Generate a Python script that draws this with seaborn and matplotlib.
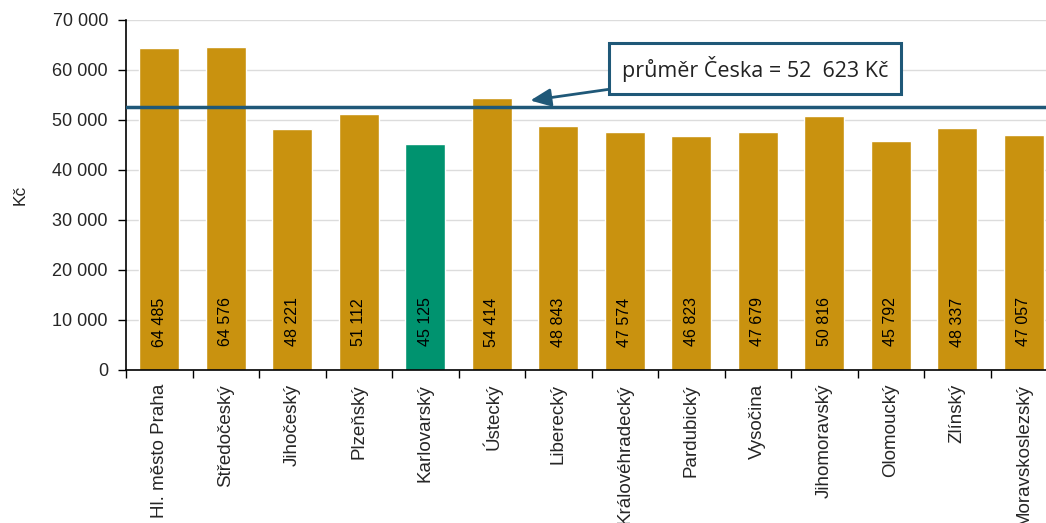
import matplotlib
matplotlib.use("Agg")
import matplotlib.pyplot as plt
import seaborn as sns
import pandas as pd
import numpy as np

regions = ["Hl. město Praha", "Středočeský", "Jihočeský", "Plzeňský", "Karlovarský",
           "Ústecký", "Liberecký", "Královéhradecký", "Pardubický", "Vysočina",
           "Jihomoravský", "Olomoucký", "Zlínský", "Moravskoslezský"]
values = [64485, 64576, 48221, 51112, 45125, 54414, 48843, 47574, 46823, 47679,
          50816, 45792, 48337, 47057]
highlight = "Karlovarský"
mean_value = 52623
y_ticks = [0, 10000, 20000, 30000, 40000, 50000, 60000, 70000]

gold = "#C9920F"
green = "#00936F"
blue = "#1F5878"

sns.set_theme(style="white")
plt.rcParams['font.family'] = ['Liberation Sans', 'DejaVu Sans']

df = pd.DataFrame({"region": regions, "value": values})
palette = {r: (green if r == highlight else gold) for r in regions}

fig = plt.figure(figsize=(10.46, 5.23), dpi=100)
ax = fig.add_axes([126/1046, 1-370/523, (1057-126)/1046, 350/523])

sns.barplot(data=df, x="region", y="value", hue="region", palette=palette,
            width=0.6, saturation=1, legend=False, ax=ax, zorder=2)

ax.set_ylim(0, 70000)
ax.set_xlim(-0.5, len(regions) - 0.5)
ax.set_yticks(y_ticks)
ax.set_yticklabels([f"{v:,}".replace(",", " ") for v in y_ticks], fontsize=13)
ax.yaxis.grid(True, color="#DCDCDC", linewidth=1, zorder=0)
ax.set_axisbelow(True)

ax.set_xticks(range(len(regions)))
ax.set_xticklabels(regions, rotation=90, fontsize=13.5, va="top")
ax.tick_params(axis="x", which="major", length=0, pad=10)
ax.set_xticks(np.arange(-0.5, len(regions)), minor=True)
ax.tick_params(axis="x", which="minor", length=6, width=1, color="black", direction="out", bottom=True)
ax.tick_params(axis="y", length=6, width=1, color="black", direction="out", left=True, pad=7)

for s in ["top", "right"]:
    ax.spines[s].set_visible(False)
for s in ["left", "bottom"]:
    ax.spines[s].set_color("black")
    ax.spines[s].set_linewidth(1.2)

ax.set_xlabel("")
ax.set_ylabel("Kč", fontsize=12.5, labelpad=18)

for i, v in enumerate(values):
    ax.text(i, 9600, f"{v:,}".replace(",", " "), rotation=90, ha="center", va="center",
            fontsize=11.5, color="black", zorder=3)

ax.axhline(mean_value, color=blue, linewidth=2.5, zorder=3)

ax.annotate("průměr Česka = 52  623 Kč", xy=(5.58, 53900), xytext=(8.96, 60300),
            fontsize=15.5, family=["Open Sans", "DejaVu Sans"], color="#222222",
            ha="center", va="center",
            bbox=dict(boxstyle="square,pad=0.6", fc="white", ec=blue, lw=2.2),
            arrowprops=dict(arrowstyle="-|>,head_length=0.8,head_width=0.35", color=blue, lw=2,
                            shrinkA=0, shrinkB=0),
            zorder=5)

fig.savefig("out.png", dpi=100)
